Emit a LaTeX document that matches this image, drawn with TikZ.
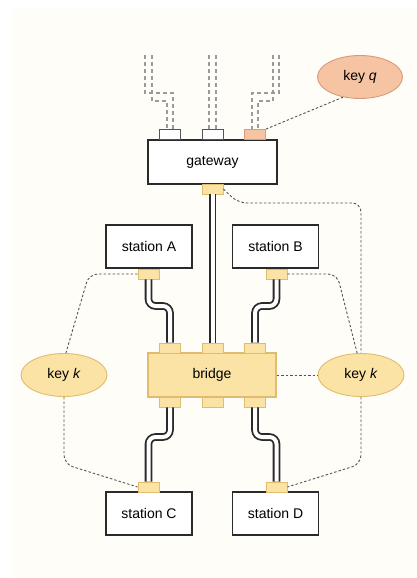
\documentclass[tikz,border=0pt]{standalone}
\usepackage{fontspec}
\setmainfont{Liberation Sans}
\usetikzlibrary{calc,shapes.geometric}
\definecolor{bgc}{HTML}{FEFDF8}
\definecolor{boxline}{HTML}{2A2A2A}
\definecolor{yfill}{HTML}{FBE3A6}
\definecolor{yline}{HTML}{E2BC6E}
\definecolor{sfill}{HTML}{F6C3A3}
\definecolor{sline}{HTML}{D99A7C}
\definecolor{linkc}{HTML}{555555}
\definecolor{ghostc}{HTML}{9A9A9A}
\begin{document}
\begin{tikzpicture}[x=1pt,y=-1pt,
  lbl/.style={font=\fontsize{14}{16}\selectfont},
  box/.style={lbl, draw=boxline, line width=1.6pt, fill=white, minimum width=86pt, minimum height=43pt, inner sep=0pt},
  hub/.style={lbl, draw=yline, line width=1.4pt, fill=yfill, minimum width=128pt, minimum height=44pt, inner sep=0pt},
  port/.style={draw=yline, fill=yfill, line width=0.8pt, minimum width=21pt, minimum height=10pt, inner sep=0pt},
  wport/.style={port, draw=boxline!80, fill=white},
  sport/.style={port, draw=sline, fill=sfill},
  keyk/.style={lbl, ellipse, draw=yline, line width=0.9pt, fill=yfill, minimum width=86pt, minimum height=43pt, inner sep=0pt},
  keyq/.style={keyk, draw=sline, fill=sfill},
  cable/.style={draw=boxline, line width=1.8pt, double=white, double distance=4pt, rounded corners=7pt},
  link/.style={draw=linkc, line width=0.9pt, dash pattern=on 2.5pt off 2pt, rounded corners=9pt},
  ghost/.style={draw=ghostc, line width=1.4pt, dash pattern=on 4pt off 3pt},
]
\useasboundingbox (0,0) rectangle (417,578);
\fill[white] (0,0) rectangle (417,578);
\fill[bgc] (12,7) rectangle (417,578);

% main boxes
\node[box, minimum width=129pt, minimum height=44pt] (gw) at (212.5,162) {gateway};
\node[box] (sA) at (149,246.5) {station A};
\node[box] (sB) at (275.5,246.5) {station B};
\node[box] (sC) at (149,513.5) {station C};
\node[box] (sD) at (275.5,513.5) {station D};
\node[hub] (br) at (212,375) {bridge};
\node[keyk] (kL) at (64,375) {key \textit{k}};
\node[keyk] (kR) at (361,375) {key \textit{k}};
\node[keyq, minimum width=85pt] (kq) at (360,77) {key \textit{q}};

% ports
\node[wport] (g1) at (170,134.5) {};
\node[wport] (g2) at (212.5,134.5) {};
\node[sport] (g3) at (255,134.5) {};
\node[port] (gb) at (212.5,189) {};
\node[port] (pA) at (148.5,274) {};
\node[port] (pB) at (276.5,274) {};
\node[port] (pC) at (148.5,487) {};
\node[port] (pD) at (276.5,487) {};
\node[port] (t1) at (170,348) {};
\node[port] (t2) at (212.5,348) {};
\node[port] (t3) at (255,348) {};
\node[port] (b1) at (170,402) {};
\node[port] (b2) at (212.5,402) {};
\node[port] (b3) at (255,402) {};

% upstream ghost lines
\draw[ghost] (145,55) -- (145,93) -- (173,93) -- (173,129);
\draw[ghost] (152,55) -- (152,101) -- (167,101) -- (167,129);
\draw[ghost] (209,55) -- (209,129);
\draw[ghost] (216,55) -- (216,129);
\draw[ghost] (279,55) -- (279,93) -- (252,93) -- (252,129);
\draw[ghost] (273,55) -- (273,101) -- (258,101) -- (258,129);

% cables
\draw[cable] (gb.south) -- (t2.north);
\draw[cable] (pA.south) -- (148.5,306) -- (170,306) -- (t1.north);
\draw[cable] (pB.south) -- (276.5,306) -- (255,306) -- (t3.north);
\draw[cable] (b1.south) -- (170,437) -- (148.5,437) -- (pC.north);
\draw[cable] (b3.south) -- (255,437) -- (276.5,437) -- (pD.north);

% key links
\draw[link] (g3.north east) -- (kq.230);
\draw[link] (gb.east) -- (238,203) -- (361,203) -- (kR.north);
\draw[link] (pA.west) -- (89,274) -- (kL.85);
\draw[link] (kL.south) -- (64,464) -- (pC.west);
\draw[link] (pB.east) -- (337,274) -- (kR.100);
\draw[link] (kR.south) -- (361,464) -- (pD.east);
\draw[link] (br.east) -- (kR.west);
\end{tikzpicture}
\end{document}
